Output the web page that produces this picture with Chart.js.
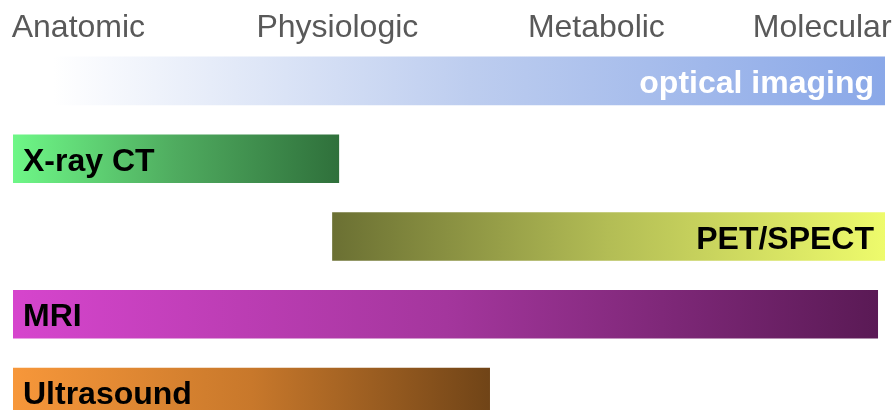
<!DOCTYPE html>
<html><head><meta charset="utf-8">
<script src="https://cdn.jsdelivr.net/npm/chart.js@4.4.1/dist/chart.umd.min.js"></script>
<style>html,body{margin:0;padding:0;background:#fff;overflow:hidden;width:896px;height:410px;position:relative;} #wrap{width:896px;height:431px;position:absolute;left:0;top:0;}</style>
</head><body><div id="wrap"><canvas id="c"></canvas></div>
<script>
// ---- data ----
const modalities = ['optical imaging', 'X-ray CT', 'PET/SPECT', 'MRI', 'Ultrasound'];
const rangeStart = [4.6, 0, 36.6, 0, 0];
const rangeEnd   = [100, 37.4, 100, 99.2, 54.7];
const scaleLabels = ['Anatomic', 'Physiologic', 'Metabolic', 'Molecular'];
const scaleLabelPositions = [7.5, 37.2, 66.9, 92.8];

// ---- styles ----
const barStyles = [
  { stops: [[0, '#ffffff'], [0.5, '#bdcdef'], [1, '#8aa8e8']], text: '#ffffff', align: 'right' },
  { stops: [[0, '#6ef787'], [0.5, '#4fab5f'], [1, '#2f703b']], text: '#000000', align: 'left' },
  { stops: [[0, '#6b7033'], [0.5, '#b3bd55'], [1, '#eefb6c']], text: '#000000', align: 'right' },
  { stops: [[0, '#d645cd'], [0.5, '#a4369d'], [1, '#5a1a55']], text: '#000000', align: 'left' },
  { stops: [[0, '#f7973a'], [0.5, '#c8782b'], [1, '#704417']], text: '#000000', align: 'left' }
];
const FONT_FAMILY = '"Liberation Sans", Arial, sans-serif';

const barLabelPlugin = {
  id: 'barLabels',
  afterDatasetsDraw(chart) {
    const meta = chart.getDatasetMeta(0);
    const c = chart.ctx;
    meta.data.forEach((bar, i) => {
      const st = barStyles[i];
      const left = Math.min(bar.x, bar.base), right = Math.max(bar.x, bar.base);
      c.save();
      c.font = 'bold 32px ' + FONT_FAMILY;
      c.fillStyle = st.text;
      c.textBaseline = 'alphabetic';
      if (st.align === 'right') {
        c.textAlign = 'right';
        c.fillText(modalities[i], right - 11, bar.y + 12);
      } else {
        c.textAlign = 'left';
        c.fillText(modalities[i], left + 10, bar.y + 12);
      }
      c.restore();
    });
  }
};

new Chart(document.getElementById('c'), {
  type: 'bar',
  data: {
    labels: modalities,
    datasets: [{
      data: rangeStart.map((s, i) => [s, rangeEnd[i]]),
      backgroundColor: (ctx) => {
        const chart = ctx.chart;
        const xs = chart.scales && chart.scales.x;
        if (!xs || ctx.type !== 'data') return '#cccccc';
        const i = ctx.dataIndex;
        const x0 = xs.getPixelForValue(rangeStart[i]);
        const x1 = xs.getPixelForValue(rangeEnd[i]);
        if (!isFinite(x0) || !isFinite(x1)) return barStyles[i].stops[0][1];
        const g = chart.ctx.createLinearGradient(x0, 0, x1, 0);
        barStyles[i].stops.forEach(([o, col]) => g.addColorStop(o, col));
        return g;
      },
      borderWidth: 0,
      borderSkipped: false,
      categoryPercentage: 1,
      barPercentage: 0.625
    }]
  },
  options: {
    indexAxis: 'y',
    responsive: true,
    maintainAspectRatio: false,
    animation: false,
    layout: { padding: { left: 13, right: 11, top: 0, bottom: 0 } },
    plugins: { legend: { display: false }, tooltip: { enabled: false } },
    scales: {
      x: {
        type: 'linear',
        position: 'top',
        min: 0,
        max: 100,
        grid: { display: false, drawTicks: false },
        border: { display: false },
        ticks: {
          autoSkip: false,
          maxRotation: 0,
          mirror: true,
          padding: -33,
          color: '#595959',
          font: { family: FONT_FAMILY, size: 32 },
          callback: (v, i) => scaleLabels[i]
        },
        afterBuildTicks: (scale) => {
          scale.ticks = scaleLabelPositions.map(v => ({ value: v }));
        },
        afterFit: (scale) => {
          scale.height = 42;
          scale.paddingLeft = 0;
          scale.paddingRight = 0;
        }
      },
      y: {
        type: 'category',
        display: false,
        offset: true
      }
    }
  },
  plugins: [barLabelPlugin]
});
</script>
</body></html>
